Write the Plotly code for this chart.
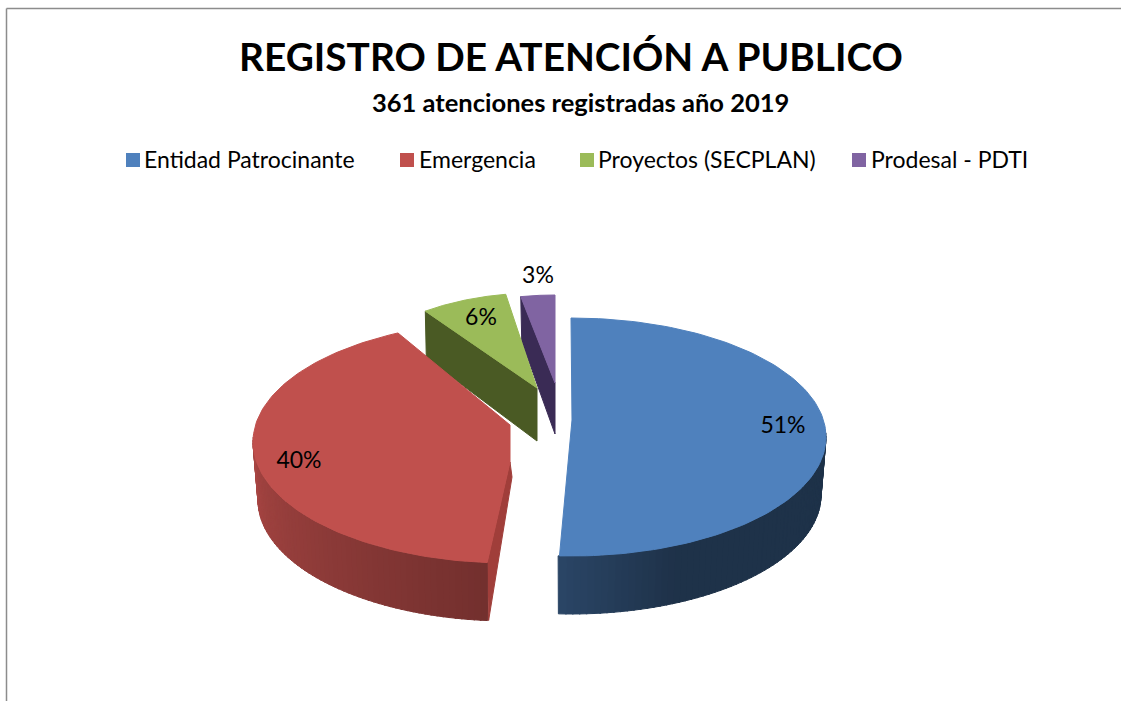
import numpy as np
import plotly.graph_objects as go

categories = ["Entidad Patrocinante", "Emergencia", "Proyectos (SECPLAN)", "Prodesal - PDTI"]
values = [184, 144, 22, 11]
colors = ["#4f81bd", "#c0504d", "#9bbb59", "#8064a2"]
title_text = "REGISTRO DE ATENCIÓN A PUBLICO"
subtitle_text = "361 atenciones registradas año 2019"

FONT = "Lato"
total = sum(values)
edges = np.concatenate([[0], np.cumsum(values)]) / total * 360

# drawing geometry of each exploded slice (axis units = pixels of the plot area)
geom = [
    dict(cx=571, cy=437, rx=255, ry=119, apex=[(572, 420)], trim=(0, -0.9), depth=58),
    dict(cx=509, cy=442, rx=256, ry=121, apex=[(510, 425), (510, 462)], trim=(1.4, 7.2), depth=58),
    dict(cx=537, cy=388, rx=190, ry=95, apex=[(537, 388)], trim=(-3.1, 1.5), depth=50),
    dict(cx=555, cy=383, rx=180, ry=88, apex=[(555, 383)], trim=(0, 0), depth=48),
]
label_pos = [(783, 427), (299, 462), (481, 319), (538, 277)]
legend_marker_x = [133, 407, 587, 859]
legend_text_x = [144, 419, 598, 871]
legend_y = 160
legend_text_y = 162


def rim(g, a0, a1, n=120):
    t = np.radians(np.linspace(a0, a1, n))
    return g["cx"] + g["rx"] * np.sin(t), g["cy"] - g["ry"] * np.cos(t)


def rim_low(g, a0, a1, n=120):
    t = np.radians(np.linspace(a0, a1, n))
    return g["cx"] + (g["rx"] - 5) * np.sin(t), g["cy"] + g["depth"] - g["ry"] * np.cos(t)


def mix(c, f):
    c = c.lstrip("#")
    r, gg, b = [int(c[i:i + 2], 16) for i in (0, 2, 4)]
    return f"rgb({int(r * f)},{int(gg * f)},{int(b * f)})"


def poly(x, y, color):
    return go.Scatter(x=list(x) + [x[0]], y=list(y) + [y[0]], mode="lines", fill="toself",
                      fillcolor=color, line=dict(width=1, color=color), showlegend=False,
                      hoverinfo="skip")


fig = go.Figure()
spans = [(edges[i] + geom[i]["trim"][0], edges[i + 1] + geom[i]["trim"][1]) for i in range(4)]

# purple and green: only the left cut face shows
for i, dark in [(3, "#3a2b55"), (2, "#4a5a24")]:
    g = geom[i]
    x0, y0 = rim(g, spans[i][0], spans[i][0], 2)
    ax, ay = g["apex"][0]
    d = g["depth"]
    fig.add_trace(poly([x0[0], x0[0] + 1, ax, ax], [y0[0], y0[0] + d - 3, ay + d + 3, ay], dark))
    rx_, ry_ = rim(g, *spans[i])
    fig.add_trace(poly(list(rx_) + [ax], list(ry_) + [ay], colors[i]))


# outer walls drawn as bands so that the shading runs along the rim
def wall(i, a0, a1, shade, bands=60):
    g = geom[i]
    steps = np.linspace(a0, a1, bands + 1)
    for k in range(bands):
        xs, ys = rim(g, steps[k], steps[k + 1] + 0.3, 5)
        xl, yl = rim_low(g, steps[k], steps[k + 1] + 0.3, 5)
        fig.add_trace(poly(list(xs) + list(xl[::-1]), list(ys) + list(yl[::-1]),
                           mix(colors[i], shade((k + 0.5) / bands))))


# red: cut face strip, wall, top
g = geom[1]
xs, ys = rim(g, spans[1][0], spans[1][0], 2)
xl, yl = rim_low(g, spans[1][0], spans[1][0], 2)
low = g["apex"][1]
fig.add_trace(poly([low[0], low[0] + 2, xl[0] + 1, xs[0]],
                   [low[1], low[1] + 15, yl[0], ys[0]], "#a03e3a"))
wall(1, spans[1][0], 272, lambda t: 0.60 + 0.28 * t)
x_, y_ = rim(g, *spans[1])
fig.add_trace(poly(list(x_) + [p[0] for p in g["apex"]], list(y_) + [p[1] for p in g["apex"]], colors[1]))

# blue: wall and top
wall(0, 88, spans[0][1], lambda t: 0.39 if t < 0.72 else 0.39 + 0.15 * (t - 0.72) / 0.28)
g = geom[0]
x_, y_ = rim(g, *spans[0])
ax, ay = g["apex"][0]
fig.add_trace(poly(list(x_) + [ax], list(y_) + [ay], colors[0]))

# data labels
for i in range(4):
    fig.add_trace(go.Scatter(x=[label_pos[i][0]], y=[label_pos[i][1]], mode="text",
                             text=[f"{round(values[i] / total * 100)}%"], showlegend=False,
                             textfont=dict(family=FONT, size=23, color="#000"), hoverinfo="skip"))

# legend row
for i in range(4):
    fig.add_trace(go.Scatter(x=[legend_marker_x[i]], y=[legend_y], mode="markers", name=categories[i],
                             marker=dict(symbol="square", size=14, color=colors[i]), showlegend=False))
    fig.add_trace(go.Scatter(x=[legend_text_x[i]], y=[legend_text_y], mode="text", name=categories[i],
                             text=[categories[i]], textposition="middle right", showlegend=False,
                             textfont=dict(family=FONT, size=23, color="#000"), hoverinfo="skip"))

fig.update_layout(
    width=1121, height=701, margin=dict(l=0, r=0, t=0, b=0), autosize=False,
    paper_bgcolor="#fff", plot_bgcolor="#fff", showlegend=False,
    xaxis=dict(range=[0, 1121], visible=False, fixedrange=True),
    yaxis=dict(range=[701, 0], visible=False, fixedrange=True),
    shapes=[
        dict(type="line", xref="x", yref="y", x0=6.5, x1=1121, y0=8.5, y1=8.5, line=dict(color="#8c8c8c", width=1.5)),
        dict(type="line", xref="x", yref="y", x0=6.5, x1=6.5, y0=8.5, y1=701, line=dict(color="#8c8c8c", width=1.5)),
    ],
    annotations=[
        dict(x=571, y=56, xref="x", yref="y", text=f"<b>{title_text}</b>", showarrow=False,
             font=dict(family=FONT, size=38.8, color="#000")),
        dict(x=580, y=101.5, xref="x", yref="y", text=f"<b>{subtitle_text}</b>", showarrow=False,
             font=dict(family=FONT, size=25.5, color="#000")),
    ],
)
fig.write_html("out.html", config={"displayModeBar": False},
               post_script="document.body.style.margin='0';document.documentElement.style.overflow='hidden';")
